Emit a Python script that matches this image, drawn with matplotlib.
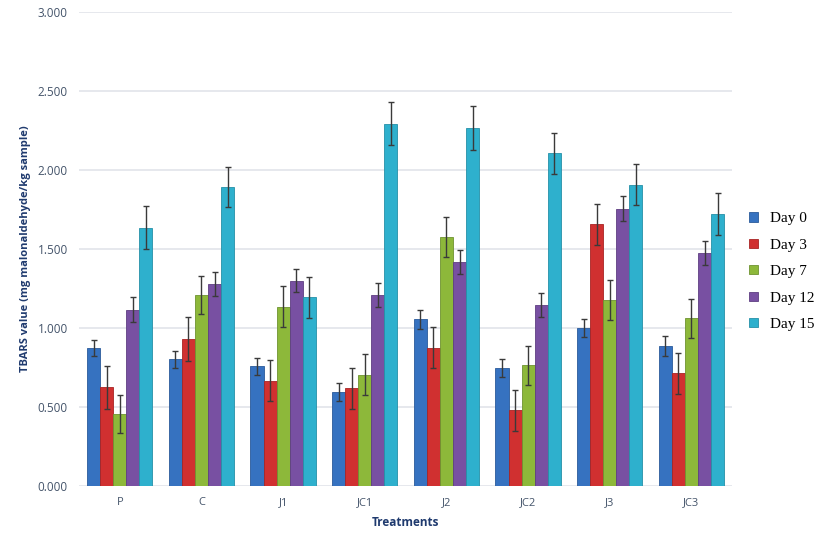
import matplotlib
matplotlib.use("Agg")
import matplotlib.pyplot as plt
import numpy as np

categories = ["P", "C", "J1", "JC1", "J2", "JC2", "J3", "JC3"]
series_names = ["Day 0", "Day 3", "Day 7", "Day 12", "Day 15"]
day0 = [0.873, 0.802, 0.758, 0.595, 1.056, 0.747, 1.000, 0.886]
day3 = [0.624, 0.930, 0.666, 0.619, 0.875, 0.480, 1.657, 0.714]
day7 = [0.456, 1.210, 1.135, 0.703, 1.576, 0.763, 1.177, 1.060]
day12 = [1.115, 1.280, 1.298, 1.210, 1.419, 1.144, 1.754, 1.475]
day15 = [1.635, 1.891, 1.195, 2.294, 2.266, 2.105, 1.907, 1.721]
err0 = [0.050, 0.053, 0.053, 0.055, 0.060, 0.055, 0.055, 0.062]
err3 = [0.134, 0.137, 0.130, 0.130, 0.130, 0.130, 0.130, 0.130]
err7 = [0.120, 0.120, 0.130, 0.130, 0.125, 0.123, 0.128, 0.124]
err12 = [0.080, 0.075, 0.073, 0.075, 0.077, 0.075, 0.080, 0.077]
err15 = [0.135, 0.125, 0.130, 0.135, 0.137, 0.130, 0.130, 0.132]
yticks = [0.0, 0.5, 1.0, 1.5, 2.0, 2.5, 3.0]

values = [day0, day3, day7, day12, day15]
errors = [err0, err3, err7, err12, err15]
colors = ["#3672c0", "#d03030", "#8db83a", "#7850a2", "#2eb0cd"]
edges = ["#2a5a9a", "#a82424", "#6e9330", "#5e3e82", "#2590a8"]

fig = plt.figure(figsize=(8.27, 5.46), dpi=100)
ax = fig.add_axes([0.0955, 0.11, 0.79, 0.868])

x = np.arange(len(categories))
w = 0.16
for i, (vals, errs) in enumerate(zip(values, errors)):
    pos = x + (i - 2) * w
    ax.bar(pos, vals, width=w, color=colors[i], edgecolor=edges[i], linewidth=0.6,
           label=series_names[i], zorder=2)
    ax.errorbar(pos, vals, yerr=errs, fmt="none", ecolor="#3a3a3a", elinewidth=1.0,
                capsize=2.5, capthick=1.0, zorder=3)

ax.set_xlim(-0.5, 7.5)
ax.set_ylim(0, 3.0)
ax.set_yticks(yticks)
ax.set_yticklabels([f"{t:.3f}" for t in yticks], fontfamily="Open Sans", fontsize=8.5, color="#44546a")
ax.set_xticks(x)
ax.set_xticklabels(categories, fontfamily="Open Sans", fontsize=8, color="#44546a")
ax.tick_params(axis="both", length=0, pad=8)
ax.yaxis.grid(True, color="#e1e4ea", linewidth=1.2, zorder=0)
ax.set_axisbelow(True)
for s in ax.spines.values():
    s.set_visible(False)

ax.set_ylabel("TBARS value (mg malonaldehyde/kg sample)", fontfamily="Open Sans", fontsize=8,
              fontweight="bold", color="#1f3a6e", labelpad=5)
ax.set_xlabel("Treatments", fontfamily="Open Sans", fontsize=8.5, fontweight="bold",
              color="#1f3a6e", labelpad=6)

leg = ax.legend(loc="center left", bbox_to_anchor=(1.005, 0.452), frameon=False,
                prop={"family": "Liberation Serif", "size": 11}, handlelength=0.55,
                handleheight=0.55, handletextpad=0.8, labelspacing=0.88)

fig.savefig("out.png", dpi=100)
